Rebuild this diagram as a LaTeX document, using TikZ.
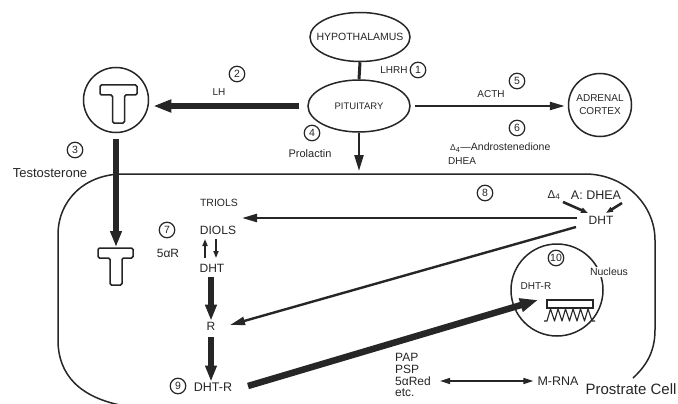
\documentclass[tikz,border=0pt]{standalone}
\usepackage{fontspec}
\setmainfont{Liberation Sans}
\usetikzlibrary{arrows.meta,shapes.geometric}
\definecolor{ink}{HTML}{262626}
\begin{document}
\begin{tikzpicture}[x=1pt,y=-1pt,
  every node/.style={inner sep=0pt,text=ink},
  outl/.style={draw=ink,line width=1.5pt},
  txt/.style={font=\fontsize{#1}{#1}\selectfont},
  circnum/.style={circle,draw=ink,line width=1.2pt,minimum size=15.5pt,font=\fontsize{10.5}{10.5}\selectfont},
  thinarr/.style={draw=ink,line width=2.4pt,-{Triangle[length=15pt,width=8pt]}},
  smallarr/.style={draw=ink,line width=2pt,-{Triangle[length=7pt,width=5pt]}},
  fatarr/.style={draw=ink,line width=5.5pt,-{Triangle[length=18pt,width=12pt]}},
  vfatarr/.style={draw=ink,line width=6pt,-{Triangle[length=16pt,width=11pt]}},
  bigarr/.style={draw=ink,line width=6.5pt,-{Triangle[length=18pt,width=13pt]}},
  dblarr/.style={draw=ink,line width=1.5pt,{Triangle[length=10pt,width=6pt]}-{Triangle[length=10pt,width=6pt]}},
]
\useasboundingbox (0,0) rectangle (678,404);
\fill[white] (0,0) rectangle (678,404);
\clip (0,0) rectangle (678,404);

% hypothalamus / pituitary
\node[outl,ellipse,minimum width=100pt,minimum height=49pt] (hyp) at (360,37) {};
\node[txt=10.5] (hyptext) at (hyp) {HYPOTHALAMUS};
\node[outl,ellipse,minimum width=102pt,minimum height=52pt] (pit) at (359,106) {};
\node[txt=9.5] (pittext) at (pit) {PITUITARY};
\draw[draw=ink,line width=3pt] (hyp.south) -- (pit.north);
\node[txt=10] (lhrh) at (394,70) {LHRH};
\node[circnum] (c1) at (418,70) {1};

% testis
\node[outl,circle,minimum size=65pt] (tc) at (116,100) {};
\draw[outl,rounded corners=1.5pt] (100,85) -- (137,85) -- (137,95) -- (124.5,95) -- (124.5,123) -- (112.5,123) -- (112.5,95) -- (100,95) -- cycle;
\draw[fatarr,shorten <=8pt,shorten >=4pt] (pit.west) -- (pit.west -| tc.east);
\node[txt=10] (lh) at (219,92) {LH};
\node[circnum] (c2) at (237,74) {2};

\coordinate (tsm) at (116,247);
\draw[outl,rounded corners=1.5pt] (98,248) -- (133,248) -- (133,258) -- (122,258) -- (122,285) -- (110,285) -- (110,258) -- (98,258) -- cycle;
\draw[vfatarr,shorten <=6pt] (tc.south) -- (tsm);
\node[circnum] (c3) at (75,150) {3};
\node[txt=13] (testo) at (50,173) {Testosterone};

% adrenal
\node[outl,circle,minimum size=63pt] (adr) at (600,105) {};
\node[font=\fontsize{10}{13}\selectfont,align=center] (adrtext) at (adr) {ADRENAL\\CORTEX};
\draw[thinarr,shorten <=4pt,shorten >=3pt] (pit.east) -- (pit.east -| adr.west);
\node[txt=10] (acth) at (491,94) {ACTH};
\node[circnum] (c5) at (517,81) {5};
\node[circnum] (c6) at (517,128) {6};
\node[txt=10.5,anchor=west] (andro) at (450,148) {{\fontsize{8.5}{8.5}\selectfont Δ}\textsubscript{4}—Androstenedione};
\node[txt=10,anchor=west] (dhea) at (448,161) {DHEA};

% prolactin
\coordinate (celltop) at (359,174);
\draw[draw=ink,line width=2.4pt,-{Triangle[length=16pt,width=9pt]},shorten >=3pt] (pit.south) -- (celltop);
\node[circnum] (c4) at (312,133) {4};
\node[txt=11] (prl) at (310,154) {Prolactin};

% prostate cell outline
\draw[outl] (633,378) .. controls (646,366) and (655,352) .. (655,330) -- (655,240)
  .. controls (655,205) and (625,174) .. (585,174) -- (123,174)
  .. controls (85,174) and (58,200) .. (58,235) -- (58,340)
  .. controls (58,375) and (80,398) .. (125,406);
\node[txt=15,fill=white,inner sep=1pt] (pcell) at (631,389) {Prostrate Cell};

% adrenal precursors inside the cell
\node[circnum] (c8) at (485,193) {8};
\node[txt=11.5] (d4) at (554,195) {Δ\textsubscript{4}};
\node[txt=12.5] (adhea) at (596,195) {A: DHEA};
\node[txt=12] (dht1) at (601,220) {DHT};
\coordinate (s1a) at (563,202); \coordinate (s1b) at (588,213);
\coordinate (s2a) at (622,203); \coordinate (s2b) at (606,213);
\draw[draw=ink,line width=2.6pt,-{Triangle[length=7pt,width=5pt]}] (s1a) -- (s1b);
\draw[draw=ink,line width=2.6pt,-{Triangle[length=7pt,width=5pt]}] (s2a) -- (s2b);

% metabolic column
\node[txt=10.5] (triols) at (219,203) {TRIOLS};
\node[txt=12] (diols) at (218,230) {DIOLS};
\node[txt=12] (dht2) at (212,268) {DHT};
\node[txt=12] (r) at (211,326) {R};
\node[txt=12.5] (dhtr) at (213,387) {DHT-R};
\node[circnum] (c9) at (178,386) {9};
\node[circnum] (c7) at (167,230) {7};
\node[txt=12] (fiveaR) at (168,253) {5αR};

\coordinate (trend) at (242,218);
\draw[thinarr,shorten <=11pt] (dht1.west |- trend) -- (trend);
\coordinate (dhtlow) at (576,227); \coordinate (rend) at (230,325);
\draw[thinarr] (dhtlow) -- (rend);

\coordinate (ua) at (205,258); \coordinate (ub) at (205,239);
\coordinate (da) at (216,239); \coordinate (db) at (216,258);
\draw[smallarr] (ua) -- (ub);
\draw[smallarr,line width=1.6pt] (da) -- (db);

\draw[vfatarr,shorten <=5pt,shorten >=1pt] (r.north |- dht2.south) -- (r.north);
\draw[vfatarr,shorten <=7pt,shorten >=1pt] (r.south) -- (r.south |- dhtr.north);

% nucleus
\node[outl,circle,minimum size=92pt] (nuc) at (557,290) {};
\node[txt=10.5,fill=white,inner sep=1pt] (nuctext) at (609,272) {Nucleus};
\node[circnum] (c10) at (556,258) {10};
\node[txt=10] (ndhtr) at (536,286) {DHT-R};
\draw[outl] (547,300) rectangle (593,308);
\draw[draw=ink,line width=1.1pt,line join=round] (544,321) -- (547,321)
  -- (550.5,309) -- (554.5,321) -- (558,309) -- (562,321) -- (565.5,309) -- (569.5,321)
  -- (573,309) -- (577,321) -- (580.5,309) -- (584.5,321) -- (588,309) -- (592,321) -- (595,321);

\coordinate (bigs) at (248,386); \coordinate (bige) at (538,300);
\draw[bigarr] (bigs) -- (bige);

% products
\node[txt=12,anchor=west] (pap) at (395,357) {PAP};
\node[txt=12,anchor=west] (psp) at (395,369) {PSP};
\node[txt=12,anchor=west] (red) at (395,381) {5αRed};
\node[txt=12,anchor=west] (etc) at (395,393) {etc.};
\node[txt=12.5] (mrna) at (558,381) {M-RNA};
\draw[dblarr,shorten <=9pt,shorten >=4pt] (red.east) -- (red.east -| mrna.west);
\end{tikzpicture}
\end{document}
